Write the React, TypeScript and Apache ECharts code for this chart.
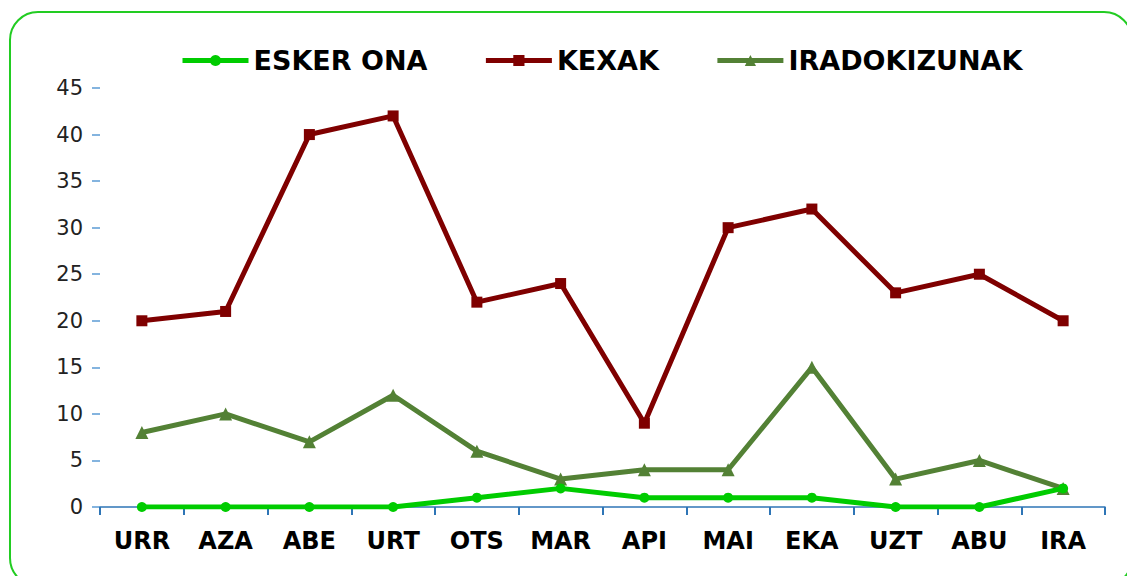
import React, { useEffect, useRef } from "react";
import * as echarts from "echarts";

const categories = ["URR", "AZA", "ABE", "URT", "OTS", "MAR", "API", "MAI", "EKA", "UZT", "ABU", "IRA"];
const eskerOna = [0, 0, 0, 0, 1, 2, 1, 1, 1, 0, 0, 2];
const kexak = [20, 21, 40, 42, 22, 24, 9, 30, 32, 23, 25, 20];
const iradokizunak = [8, 10, 7, 12, 6, 3, 4, 4, 15, 3, 5, 2];

export default function App() {
  const ref = useRef<HTMLDivElement>(null);
  useEffect(() => {
    const chart = echarts.init(ref.current!, null, { renderer: "svg" });
    chart.setOption({
      animation: false,
      backgroundColor: "#ffffff",
      graphic: [
        {
          type: "rect",
          shape: { x: 10, y: 12, width: 1122, height: 574, r: 28 },
          style: { fill: "none", stroke: "#22cc22", lineWidth: 2 },
          silent: true,
          z: -1,
        },
      ],
      legend: {
        top: 42,
        left: 175,
        itemWidth: 66,
        itemHeight: 14,
        itemGap: 56,
        lineStyle: { width: 5 },
        textStyle: { fontFamily: "DejaVu Sans", fontWeight: "bold", fontSize: 27, color: "#000" },
        data: ["ESKER ONA", "KEXAK", "IRADOKIZUNAK"],
      },
      grid: { left: 100, right: 22, top: 88, bottom: 69, containLabel: false },
      xAxis: {
        type: "category",
        data: categories,
        boundaryGap: true,
        axisLine: { show: true, lineStyle: { color: "#2e75b6", width: 1.5 } },
        axisTick: { show: true, length: 8, lineStyle: { color: "#2e75b6", width: 2 } },
        axisLabel: {
          fontFamily: "DejaVu Sans",
          fontWeight: "bold",
          fontSize: 24,
          color: "#000",
          margin: 22,
        },
      },
      yAxis: {
        type: "value",
        min: 0,
        max: 45,
        interval: 5,
        splitLine: { show: false },
        axisLine: { show: false },
        axisTick: { show: true, length: 8, lineStyle: { color: "#5b9bd5", width: 1.5 } },
        axisLabel: {
          fontFamily: "DejaVu Sans",
          fontSize: 21,
          color: "#222",
          margin: 17,
        },
      },
      series: [
        {
          name: "ESKER ONA",
          type: "line",
          data: eskerOna,
          symbol: "circle",
          symbolSize: 10,
          itemStyle: { color: "#00cc00" },
          lineStyle: { color: "#00cc00", width: 5 },
          z: 4,
        },
        {
          name: "KEXAK",
          type: "line",
          data: kexak,
          symbol: "rect",
          symbolSize: 11,
          itemStyle: { color: "#7f0000" },
          lineStyle: { color: "#7f0000", width: 5 },
          z: 3,
        },
        {
          name: "IRADOKIZUNAK",
          type: "line",
          data: iradokizunak,
          symbol: "triangle",
          symbolSize: 13,
          itemStyle: { color: "#538135" },
          lineStyle: { color: "#538135", width: 5 },
          z: 2,
        },
      ],
    });
    return () => chart.dispose();
  }, []);
  return (
    <div
      ref={ref}
      style={{ position: "fixed", left: 0, top: 0, width: 1127, height: 576 }}
    />
  );
}
